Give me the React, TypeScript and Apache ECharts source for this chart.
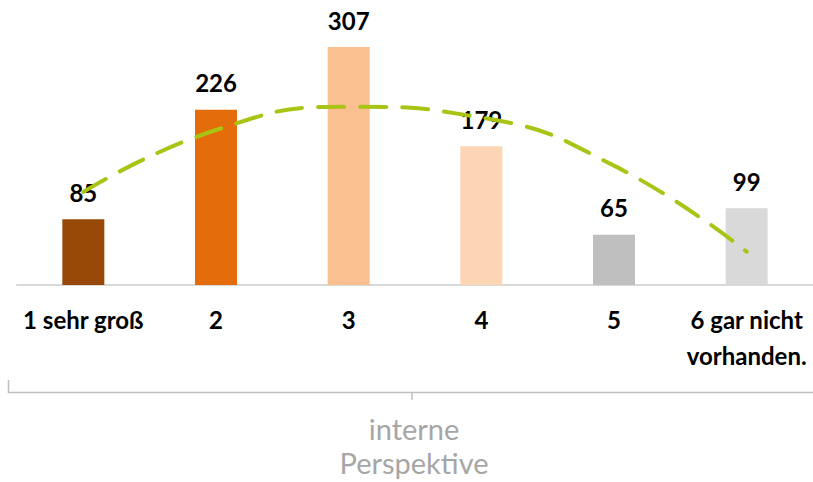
import React, { useEffect, useRef } from "react";
import * as echarts from "echarts";

const categories = ["1 sehr groß", "2", "3", "4", "5", "6 gar nicht\nvorhanden."];
const values = [85, 226, 307, 179, 65, 99];
const barColors = ["#984807", "#E46C0A", "#FAC090", "#FCD5B5", "#BFBFBF", "#D9D9D9"];
const trendValues = [120, 200, 230, 216, 154, 43];
const groupLabel = "interne\nPerspektive";

const FONT = "Lato, 'Open Sans', sans-serif";

export default function App() {
  const ref = useRef<HTMLDivElement>(null);
  useEffect(() => {
    if (!ref.current) return;
    const chart = echarts.init(ref.current, undefined, { renderer: "svg" });
    chart.setOption({
      animation: false,
      backgroundColor: "#ffffff",
      grid: { left: 17, right: -3, top: 13.75, bottom: 197, containLabel: false },
      xAxis: {
        type: "category",
        data: categories,
        axisLine: { show: true, lineStyle: { color: "#D9D9D9", width: 2 } },
        axisTick: { show: false },
        axisLabel: {
          interval: 0,
          margin: 16,
          color: "#000000",
          fontFamily: FONT,
          fontWeight: "bold",
          fontSize: 24,
          lineHeight: 36,
        },
      },
      yAxis: {
        type: "value",
        min: 0,
        max: 350,
        show: false,
        splitLine: { show: false },
      },
      series: [
        {
          type: "bar",
          barWidth: 42,
          data: values.map((v, i) => ({ value: v, itemStyle: { color: barColors[i] } })),
          label: {
            show: true,
            position: "top",
            distance: 15,
            color: "#000000",
            fontFamily: FONT,
            fontWeight: "bold",
            fontSize: 24,
          },
          z: 2,
        },
        {
          type: "line",
          data: trendValues,
          smooth: 0.5,
          symbol: "none",
          lineStyle: {
            color: "#A9C414",
            width: 4,
            type: [26, 16],
            cap: "round",
          },
          z: 3,
        },
      ],
      graphic: [
        {
          type: "polyline",
          shape: { points: [[8.5, 380], [8.5, 392.5], [813, 392.5]] },
          style: { stroke: "#BFBFBF", lineWidth: 1.5, fill: null },
        },
        {
          type: "line",
          shape: { x1: 412, y1: 392.5, x2: 412, y2: 400 },
          style: { stroke: "#BFBFBF", lineWidth: 1.5 },
        },
        {
          type: "text",
          x: 414,
          y: 445,
          style: {
            text: groupLabel,
            fill: "#A6A6A6",
            font: "29px " + FONT,
            lineHeight: 34,
            align: "center",
            verticalAlign: "middle",
          },
        },
      ],
    });
    return () => chart.dispose();
  }, []);
  return (
    <div
      ref={ref}
      style={{ position: "absolute", left: 0, top: 0, width: 813, height: 482 }}
    />
  );
}
